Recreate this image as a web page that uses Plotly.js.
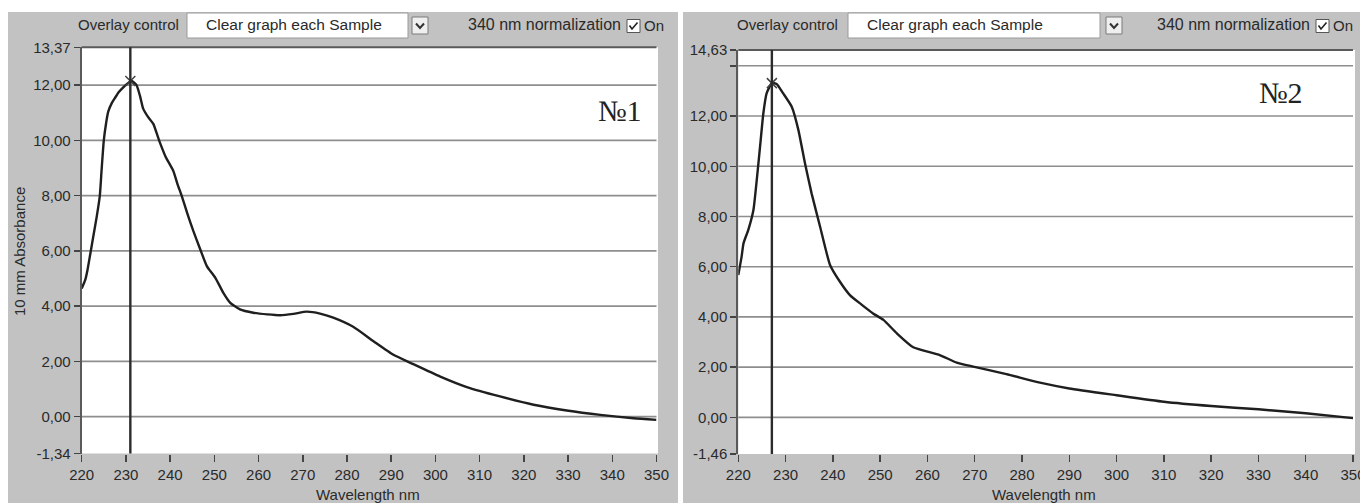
<!DOCTYPE html>
<html>
<head>
<meta charset="utf-8">
<script src="https://cdn.plot.ly/plotly-3.0.1.min.js"></script>
<style>
html,body{margin:0;padding:0;background:#ffffff;}
#chart{width:1360px;height:503px;}
</style>
</head>
<body>
<div id="chart"></div>
<script>
// ---------- data ----------
const wavelength1 = [220, 220.8, 221.3, 221.9, 222.6, 223.4, 224.1, 224.5, 225.0, 225.5, 226.0, 226.8, 227.5, 228.4, 229.4, 230.3, 231.3,
  232.4, 233.2, 233.9, 235.0, 236.2, 237.5, 239.0, 240.7, 241.7, 242.6, 243.9, 245.2, 246.8, 248.3, 250.2, 252.0, 253.6, 255.8,
  258.8, 262.0, 264.9, 267.9, 270.9, 273.9, 276.9, 281.4, 286.0, 290.5, 295.0, 301.1, 307.1, 314.6, 322.2, 329.7, 337.3, 344.8, 350];
const absorbance1 = [4.64, 4.95, 5.3, 5.85, 6.5, 7.24, 8.0, 8.93, 10.0, 10.6, 11.04, 11.35, 11.53, 11.75, 11.92, 12.05, 12.15,
  12.0, 11.6, 11.15, 10.85, 10.6, 10.0, 9.4, 8.9, 8.4, 8.0, 7.35, 6.74, 6.06, 5.45, 5.03, 4.49, 4.12, 3.88,
  3.76, 3.70, 3.67, 3.72, 3.80, 3.73, 3.58, 3.25, 2.73, 2.24, 1.90, 1.45, 1.07, 0.73, 0.43, 0.22, 0.06, -0.06, -0.12];

const wavelength2 = [220, 220.7, 221.1, 222.1, 223.2, 223.9, 224.6, 225.3, 226.0, 227.1, 228.1, 229.5, 231.3, 232.7, 234.1, 235.5,
  237.3, 239.4, 241.5, 243.6, 246.0, 248.5, 250.7, 253.5, 257.0, 262.6, 266.2, 269.7, 276.7, 283.8, 290, 300, 310, 320, 330, 340, 350];
const absorbance2 = [5.67, 6.4, 6.93, 7.46, 8.26, 9.45, 10.78, 12.11, 12.91, 13.31, 13.28, 12.9, 12.37, 11.45, 10.12, 8.92,
  7.59, 6.07, 5.4, 4.87, 4.5, 4.14, 3.88, 3.35, 2.79, 2.48, 2.18, 2.02, 1.72, 1.38, 1.15, 0.88, 0.62, 0.45, 0.32, 0.16, -0.03];

const peakWavelength = [231.0, 227.1];
const peakAbsorbance = [12.15, 13.31];

const xRange = [220, 350];
const xTickVals = [220, 230, 240, 250, 260, 270, 280, 290, 300, 310, 320, 330, 340, 350];
const yRange1 = [-1.34, 13.37];
const yTickVals1 = [-1.34, 0, 2, 4, 6, 8, 10, 12, 13.37];
const yTickText1 = ['-1,34', '0,00', '2,00', '4,00', '6,00', '8,00', '10,00', '12,00', '13,37'];
const yGridVals1 = [0, 2, 4, 6, 8, 10, 12];
const yRange2 = [-1.46, 14.63];
const yTickVals2 = [-1.46, 0, 2, 4, 6, 8, 10, 12, 14, 14.63];
const yTickText2 = ['-1,46', '0,00', '2,00', '4,00', '6,00', '8,00', '10,00', '12,00', '', '14,63'];
const yGridVals2 = [0, 2, 4, 6, 8, 10, 12, 14];

const panelLabels = ['№1', '№2'];
const xTitle = 'Wavelength nm';
const yTitle = '10 mm Absorbance';
const overlayLabel = 'Overlay control';
const dropdownText = 'Clear graph each Sample';
const normLabel = '340 nm normalization';
const onLabel = 'On';

// ---------- style helpers ----------
const W = 1360, H = 503;
const P = x => x / W;
const Q = y => 1 - y / H;
const FONT = 'Liberation Sans, Arial, sans-serif';
const TXT = '#2a2a2a';
const PANEL = '#c2c2c2';
const GRID = '#8e8e8e';

function rect(x0, y0, x1, y1, fill, lineColor, lw, layer) {
  return {type: 'rect', xref: 'paper', yref: 'paper', x0: P(x0), x1: P(x1), y0: Q(y1), y1: Q(y0),
    fillcolor: fill, line: {color: lineColor || fill, width: lw || 0}, layer: layer || 'below'};
}
function pathShape(pts, color, lw) {
  const d = pts.map((p, i) => (i ? 'L' : 'M') + P(p[0]) + ',' + Q(p[1])).join(' ');
  return {type: 'path', xref: 'paper', yref: 'paper', path: d, line: {color: color, width: lw}, layer: 'above'};
}
function txt(x, y, text, anchor, size, family, color) {
  return {xref: 'paper', yref: 'paper', x: P(x), y: Q(y), text: text, showarrow: false,
    xanchor: anchor || 'left', yanchor: 'middle', font: {family: family || FONT, size: size || 15, color: color || TXT}};
}

// panel geometry
const panels = [
  {gx0: 8, gx1: 678, px0: 81.7, px1: 656.5, top: 47.3, bottom: 453.6, white1: 658,
   ovRight: 181, box: [187, 408], arrow: [412, 428], normRight: 623, check: [627, 640], onLeft: 642,
   labelX: 620, labelY: 110, xTitleX: 368, grid: yGridVals1},
  {gx0: 683, gx1: 1360, px0: 738.3, px1: 1353, top: 50, bottom: 454, white1: 1355,
   ovRight: 840, box: [848, 1100], arrow: [1106, 1122], normRight: 1312, check: [1316, 1329], onLeft: 1331,
   labelX: 1281, labelY: 92, xTitleX: 1044, grid: yGridVals2}
];

const shapes = [];
const annotations = [];
panels.forEach((p, i) => {
  shapes.push(rect(p.gx0, 12, p.gx1, H, PANEL));
  shapes.push(rect(p.px0, p.top, p.white1, p.bottom, '#ffffff'));
  shapes.push(rect(p.box[0], 13, p.box[1], 38, '#ffffff', '#9a9a9a', 1));
  shapes.push(rect(p.arrow[0], 17, p.arrow[1], 34, '#efefef', '#7a7a7a', 1));
  const am = (p.arrow[0] + p.arrow[1]) / 2;
  shapes.push(pathShape([[am - 4, 23.5], [am, 28], [am + 4, 23.5]], '#333', 2));
  shapes.push(rect(p.check[0], 19.5, p.check[1], 32.5, '#ffffff', '#555', 1));
  const cm = (p.check[0] + p.check[1]) / 2;
  shapes.push(pathShape([[cm - 4, 25.5], [cm - 1.5, 29], [cm + 4, 22.5]], '#222', 1.6));
  annotations.push(txt(p.ovRight, 25, overlayLabel, 'right'));
  annotations.push(txt(p.box[0] + 17, 25, dropdownText, 'left', 15.5));
  annotations.push(txt(p.normRight, 25, normLabel, 'right', 16));
  annotations.push(txt(p.onLeft, 26, onLabel, 'left'));
  annotations.push(txt(p.xTitleX, 494, xTitle, 'center'));
  annotations.push(txt(p.labelX, p.labelY, panelLabels[i], 'center', 30, 'Liberation Serif, Times New Roman, serif', '#222'));
  const ax = i ? '2' : '';
  // horizontal grid lines (inner values only)
  p.grid.forEach(v => shapes.push({type: 'line', xref: 'x' + ax + ' domain', yref: 'y' + ax, x0: 0, x1: 1, y0: v, y1: v,
    line: {color: GRID, width: 1.6}, layer: 'below'}));
  // top border of plot frame
  shapes.push({type: 'line', xref: 'x' + ax + ' domain', yref: 'y' + ax + ' domain', x0: 0, x1: 1, y0: 1, y1: 1,
    line: {color: '#5a5a5a', width: 2}, layer: 'above'});
  // vertical cursor at peak
  shapes.push({type: 'line', xref: 'x' + ax, yref: 'y' + ax + ' domain', x0: peakWavelength[i], x1: peakWavelength[i], y0: 0, y1: 1,
    line: {color: '#2b2b2b', width: 2.4}, layer: 'above'});
});
annotations.push({xref: 'paper', yref: 'paper', x: P(20), y: Q(252), text: yTitle, textangle: -90, showarrow: false,
  xanchor: 'center', yanchor: 'middle', font: {family: FONT, size: 15, color: TXT}});

function xAxis(p, anchor) {
  return {domain: [P(p.px0), P(p.px1)], range: xRange, anchor: anchor, tickmode: 'array', tickvals: xTickVals,
    ticks: 'outside', ticklen: 7, tickwidth: 1.5, tickcolor: '#444', showgrid: false, zeroline: false, showline: false,
    ticklabeloverflow: 'allow', automargin: false,
    tickfont: {family: FONT, size: 15, color: TXT}, fixedrange: true};
}
function yAxis(p, anchor, range, vals, text) {
  return {domain: [Q(p.bottom), Q(p.top)], range: range, anchor: anchor, tickmode: 'array', tickvals: vals, ticktext: text,
    ticks: 'outside', ticklen: 6, tickwidth: 1.5, tickcolor: '#444', showgrid: false,
    zeroline: false, showline: true, linecolor: '#5a5a5a', linewidth: 2, automargin: false,
    tickfont: {family: FONT, size: 15, color: TXT}, fixedrange: true};
}

const lineStyle = {color: '#1f1f1f', width: 2.4, shape: 'spline', smoothing: 0.5};
const traces = [
  {x: wavelength1, y: absorbance1, xaxis: 'x', yaxis: 'y', type: 'scatter', mode: 'lines', line: lineStyle, hoverinfo: 'skip'},
  {x: wavelength2, y: absorbance2, xaxis: 'x2', yaxis: 'y2', type: 'scatter', mode: 'lines', line: lineStyle, hoverinfo: 'skip'},
  {x: [peakWavelength[0]], y: [peakAbsorbance[0]], xaxis: 'x', yaxis: 'y', type: 'scatter', mode: 'markers',
   marker: {symbol: 'x-thin', size: 10, line: {color: '#444', width: 1.5}}, hoverinfo: 'skip'},
  {x: [peakWavelength[1]], y: [peakAbsorbance[1]], xaxis: 'x2', yaxis: 'y2', type: 'scatter', mode: 'markers',
   marker: {symbol: 'x-thin', size: 10, line: {color: '#444', width: 1.5}}, hoverinfo: 'skip'}
];

const layout = {
  width: W, height: H, margin: {l: 0, r: 0, t: 0, b: 0},
  paper_bgcolor: '#ffffff', plot_bgcolor: '#ffffff', showlegend: false,
  xaxis: xAxis(panels[0], 'y'),
  yaxis: yAxis(panels[0], 'x', yRange1, yTickVals1, yTickText1),
  xaxis2: xAxis(panels[1], 'y2'),
  yaxis2: yAxis(panels[1], 'x2', yRange2, yTickVals2, yTickText2),
  shapes: shapes,
  annotations: annotations
};

Plotly.newPlot('chart', traces, layout, {staticPlot: true, displayModeBar: false});
</script>
</body>
</html>
